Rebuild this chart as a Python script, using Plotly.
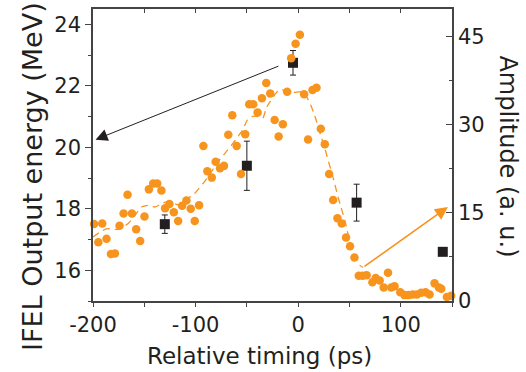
import plotly.graph_objects as go

# ---- data ----
energy_t = [-130, -50, -5, 57, 141]                # ps
energy_mev = [17.5, 19.4, 22.75, 18.2, 16.6]        # MeV
energy_err = [0.3, 0.8, 0.4, 0.6, 0.12]

amp_t = [-202, -199, -194.8, -191, -186.8, -182.5, -178.6, -174.1, -170.2, -166.3,
         -162.1, -157.9, -154.0, -149.8, -145.5, -141.3, -137.4, -133.3, -129.7, -125.5,
         -121.2, -117.0, -113.1, -108.9, -104.7, -100.8, -96.6, -92.4, -88.5, -84.2,
         -80.4, -76.2, -72.3, -68.1, -64.2, -59.9, -55.7, -51.6, -47.7, -43.8,
         -39.5, -35.3, -31.1, -27.2, -22.9, -19.0, -14.9, -10.7, -6.8, -2.5,
         1.7, 5.8, 9.7, 14.0, 17.9, 22.1, 26.0, 30.2, 34.1, 38.3,
         42.5, 46.7, 50.6, 54.9, 59.1, 63.0, 66.8, 72.4, 75.6, 79.5,
         83.4, 87.6, 90.8, 94.0, 99.6, 103.8, 107.7, 111.9, 115.8, 120.0,
         124.2, 128.1, 133.0, 137.2, 139.5, 145.0, 149.2, 154.0]
amp_val = [15.8, 13.1, 10.0, 13.2, 10.6, 8.0, 8.1, 12.8, 14.9, 18.1,
           14.9, 12.2, 10.2, 14.4, 19.0, 20.0, 20.0, 18.8, 15.8, 16.5,
           15.1, 13.6, 16.2, 17.1, 15.7, 13.6, 16.3, 26.4, 22.1, 21.0,
           23.7, 22.6, 23.0, 28.3, 31.6, 26.4, 21.6, 28.4, 33.5, 33.5,
           32.1, 34.5, 37.1, 35.3, 30.8, 28.0, 30.1, 35.6, 41.3, 43.8,
           45.3, 35.2, 27.5, 35.9, 36.3, 29.3, 26.7, 21.6, 17.2, 14.1,
           13.2, 10.8, 9.3, 7.4, 4.3, 4.3, 4.4, 3.2, 3.9, 3.5,
           2.3, 4.8, 2.3, 2.5, 1.5, 1.0, 1.0, 1.1, 1.1, 1.4,
           1.5, 1.1, 3.0, 2.3, 2.1, 0.7, 0.9, 1.4]

trend_t = [-200, -191.6, -185.8, -174.7, -165.7, -161.5, -152.7, -145.2, -139.7, -131.6,
           -126.8, -119.6, -115.4, -107.3, -101.5, -90.5, -76.8, -72.9, -63.2, -57.4,
           -54.1, -49.6, -45.3, -39.5, -34.6, -30.7, -27.5, -20.4, -16.1, -10.7,
           -4.9, 4.9, 8.5, 12.1, 15.3, 19.5, 21.8, 26.0, 28.2, 32.5,
           34.7, 38.9, 41.2, 45.4, 47.7, 51.9, 55.2, 60.0, 63.2]
trend_amp = [10.9, 11.9, 12.3, 12.2, 13.2, 14.0, 16.0, 16.3, 16.0, 16.7,
             16.9, 16.5, 16.3, 17.5, 18.2, 20.5, 24.0, 24.8, 26.9, 28.3,
             29.1, 30.8, 31.4, 31.4, 31.1, 33.0, 33.9, 35.6, 36.0, 35.6,
             35.5, 35.6, 34.7, 33.4, 32.0, 29.7, 28.3, 26.0, 24.6, 22.0,
             20.6, 17.7, 16.3, 13.8, 12.1, 9.2, 7.8, 6.1, 5.7]

x_ticks = [-200, -100, 0, 100]
left_ticks = [16, 18, 20, 22, 24]
right_ticks = [0, 15, 30, 45]

ORANGE = "#F7941D"
DARK = "#231F20"
AXIS = "#444444"
FONT = "DejaVu Sans"

fig = go.Figure()

fig.add_trace(go.Scatter(
    x=energy_t, y=energy_mev, mode="markers", xaxis="x", yaxis="y",
    marker=dict(symbol="square", size=10, color=DARK),
    error_y=dict(type="data", array=energy_err, color=DARK, thickness=1, width=3),
    showlegend=False, cliponaxis=False))

# invisible trace to bind top axis
fig.add_trace(go.Scatter(x=[-200, 150], y=[15, 15], xaxis="x2", yaxis="y",
                         mode="markers", marker=dict(opacity=0), showlegend=False,
                         hoverinfo="skip"))

fig.add_trace(go.Scatter(
    x=trend_t, y=trend_amp, mode="lines", xaxis="x", yaxis="y2",
    line=dict(color=ORANGE, width=1.3, dash="7px,5px", shape="spline", smoothing=0.6),
    showlegend=False))

fig.add_trace(go.Scatter(
    x=amp_t, y=amp_val, mode="markers", xaxis="x", yaxis="y2",
    marker=dict(size=8.5, color=ORANGE), showlegend=False, cliponaxis=False))

tickfont = dict(family=FONT, size=21, color="#231F20")

fig.update_layout(
    width=526, height=372,
    margin=dict(l=93, r=74, t=9, b=71),
    paper_bgcolor="white", plot_bgcolor="white",
    showlegend=False,
    xaxis=dict(range=[-200, 150], tickvals=x_ticks, ticktext=[str(v) for v in x_ticks],
               ticks="outside", ticklen=4, tickwidth=1, tickcolor=AXIS,
               minor=dict(dtick=50, tick0=0, ticks="outside", ticklen=4, tickcolor=AXIS),
               showline=True, linecolor=AXIS, linewidth=1.5, showgrid=False,
               zeroline=False, tickfont=tickfont),
    xaxis2=dict(range=[-200, 150], overlaying="x", side="top", showticklabels=False,
                tickmode="linear", tick0=0, dtick=50, ticks="inside", ticklen=4,
                tickcolor=AXIS, showline=True, linecolor=AXIS, linewidth=1.5,
                showgrid=False, zeroline=False),
    yaxis=dict(range=[15, 24.5], tickvals=left_ticks, ticktext=[str(v) for v in left_ticks],
               ticks="outside", ticklen=6, tickwidth=1, tickcolor=AXIS,
               minor=dict(dtick=1, tick0=0, ticks="outside", ticklen=3, tickcolor=AXIS),
               showline=True, linecolor=AXIS, linewidth=1.5, showgrid=False,
               zeroline=False, tickfont=tickfont),
    yaxis2=dict(range=[0, 49.7], overlaying="y", side="right",
                tickvals=right_ticks, ticktext=[str(v) for v in right_ticks],
                ticks="inside", ticklen=6, tickwidth=1, tickcolor=AXIS,
                minor=dict(dtick=7.5, tick0=0, ticks="inside", ticklen=3, tickcolor=AXIS),
                showline=True, linecolor=AXIS, linewidth=1.5, showgrid=False,
                zeroline=False, tickfont=tickfont),
)

fig.add_annotation(text="Relative timing (ps)", xref="paper", yref="paper",
                   x=0.463, y=-0.19, xanchor="center", yanchor="middle",
                   showarrow=False, font=dict(family=FONT, size=23, color="#231F20"))
fig.add_annotation(text="IFEL Output energy (MeV)", xref="paper", yref="paper",
                   x=-0.17, y=0.428, xanchor="center", yanchor="middle", textangle=-90,
                   showarrow=False, font=dict(family=FONT, size=27, color="#231F20"))
fig.add_annotation(text="Amplitude (a. u.)", xref="paper", yref="paper",
                   x=1.157, y=0.494, xanchor="center", yanchor="middle", textangle=90,
                   showarrow=False, font=dict(family=FONT, size=24, color="#231F20"))

# arrows
fig.add_annotation(x=-197.5, y=20.25, xref="x", yref="y", ax=-17.8, ay=22.66,
                   axref="x", ayref="y", showarrow=True, arrowhead=2, arrowsize=2.4,
                   arrowwidth=1, arrowcolor=DARK, text="")
fig.add_annotation(x=146, y=16.0, xref="x", yref="y2", ax=63.2, ay=5.7,
                   axref="x", ayref="y2", showarrow=True, arrowhead=2, arrowsize=1.6,
                   arrowwidth=1.6, arrowcolor=ORANGE, text="")

fig.write_html("out.html", config={"displayModeBar": False},
               post_script="document.body.style.margin='0';")
